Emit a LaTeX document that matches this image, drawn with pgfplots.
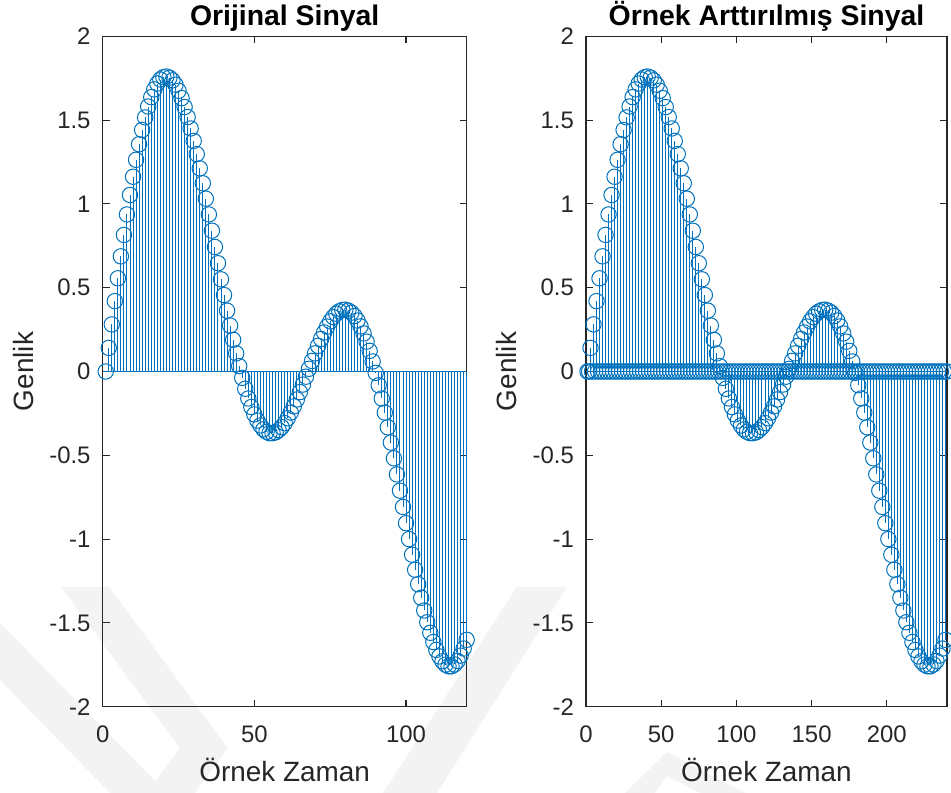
\documentclass[border=0pt]{standalone}
\usepackage{fontspec}
\setmainfont{Liberation Sans}
\usepackage{pgfplots}
\usepackage{pgfplotstable}
\pgfplotsset{compat=1.18}

\definecolor{stemblue}{HTML}{0072BD}
\definecolor{axgray}{HTML}{262626}
\definecolor{wm}{HTML}{F3F3F3}

% n: original sample index, m: index after upsampling by 2, y: amplitude
\pgfplotstableread{
n m y
1 1 0.000
2 3 0.141
3 5 0.281
4 7 0.420
5 9 0.556
6 11 0.687
7 13 0.815
8 15 0.937
9 17 1.053
10 19 1.162
11 21 1.263
12 23 1.356
13 25 1.441
14 27 1.516
15 29 1.581
16 31 1.637
17 33 1.683
18 35 1.718
19 37 1.742
20 39 1.756
21 41 1.760
22 43 1.753
23 45 1.737
24 47 1.711
25 49 1.675
26 51 1.631
27 53 1.578
28 55 1.518
29 57 1.450
30 59 1.376
31 61 1.297
32 63 1.212
33 65 1.123
34 67 1.031
35 69 0.937
36 71 0.840
37 73 0.743
38 75 0.646
39 77 0.550
40 79 0.456
41 81 0.363
42 83 0.274
43 85 0.189
44 87 0.108
45 89 0.032
46 91 -0.038
47 93 -0.103
48 95 -0.161
49 97 -0.212
50 99 -0.256
51 101 -0.293
52 103 -0.322
53 105 -0.345
54 107 -0.360
55 109 -0.368
56 111 -0.368
57 113 -0.363
58 115 -0.350
59 117 -0.332
60 119 -0.308
61 121 -0.279
62 123 -0.245
63 125 -0.208
64 127 -0.167
65 129 -0.123
66 131 -0.078
67 133 -0.031
68 135 0.016
69 137 0.063
70 139 0.108
71 141 0.153
72 143 0.194
73 145 0.233
74 147 0.268
75 149 0.299
76 151 0.324
77 153 0.345
78 155 0.359
79 157 0.367
80 159 0.369
81 161 0.363
82 163 0.351
83 165 0.331
84 167 0.304
85 169 0.269
86 171 0.227
87 173 0.178
88 175 0.123
89 177 0.060
90 179 -0.008
91 181 -0.082
92 183 -0.161
93 185 -0.245
94 187 -0.333
95 189 -0.424
96 191 -0.518
97 193 -0.614
98 195 -0.711
99 197 -0.808
100 199 -0.905
101 201 -1.000
102 203 -1.093
103 205 -1.183
104 207 -1.269
105 209 -1.350
106 211 -1.426
107 213 -1.496
108 215 -1.559
109 217 -1.614
110 219 -1.661
111 221 -1.700
112 223 -1.729
113 225 -1.749
114 227 -1.759
115 229 -1.759
116 231 -1.748
117 233 -1.727
118 235 -1.695
119 237 -1.653
120 239 -1.601
}\signal

\pgfplotsset{
  stemaxis/.style={
    scale only axis,
    height=670.4bp,
    ymin=-2, ymax=2,
    ytick={-2,-1.5,-1,-0.5,0,0.5,1,1.5,2},
    yticklabels={-2,-1.5,-1,-0.5,0,0.5,1,1.5,2},
    axis line style={axgray, line width=1.1bp},
    every tick/.style={axgray, line width=1.1bp},
    major tick length=7bp,
    tick align=inside,
    tick label style={font=\fontsize{24}{24}\selectfont, text=axgray, inner sep=0pt},
    yticklabel style={xshift=-12bp},
    xticklabel style={yshift=-19.3bp},
    label style={font=\fontsize{28}{28}\selectfont, text=axgray, inner sep=0pt},
    every axis title shift=0pt,
    title style={font=\bfseries\fontsize{28.5}{28.5}\selectfont, text=black,
                 inner sep=0pt, at={(0.5,1.01536)}, anchor=base},
    xlabel style={at={(0.5,-0.11188)}, anchor=base},
    clip=false,
    stem/.style={stemblue, line width=1bp, ycomb, mark=o, mark size=7.7bp,
                 mark options={line width=1bp, fill=none, solid}},
  },
}

\begin{document}
\begin{tikzpicture}
\useasboundingbox (0,0) rectangle (951bp,793bp);

% faint background emblem
\begin{scope}[x=1bp, y=-1bp, shift={(0,793bp)}]
  \fill[wm] (0,623) -- (167,793) -- (110,793) -- (0,680) -- cycle;
  \fill[wm] (61,587) -- (109,587) -- (228,748) -- (195,793) -- (147,793) -- (180,748) -- cycle;
  \fill[wm] (383,793) -- (437,793) -- (567,587) -- (517,587) -- cycle;
  \fill[wm] (625,793) -- (667,752) -- (745,793) -- (700,793) -- (667,776) -- (655,793) -- cycle;
\end{scope}

\begin{axis}[stemaxis,
  at={(102.7bp,86.3bp)}, anchor=south west,
  width=364bp,
  xmin=0, xmax=120,
  xtick={0,50,100}, xticklabels={0,50,100},
  title={Orijinal Sinyal},
  xlabel={Örnek Zaman},
  ylabel={Genlik},
  ylabel style={at={(-0.1901,0.5)}, anchor=base},
]
  \draw[stemblue, line width=1bp] (axis cs:0,0) -- (axis cs:120,0);
  \addplot[stem] table[x=n, y=y] {\signal};
\end{axis}

\begin{axis}[stemaxis,
  at={(586bp,86.3bp)}, anchor=south west,
  width=361bp,
  xmin=0, xmax=240,
  xtick={0,50,100,150,200}, xticklabels={0,50,100,150,200},
  title={Örnek Arttırılmış Sinyal},
  xlabel={Örnek Zaman},
  ylabel={Genlik},
  ylabel style={at={(-0.1920,0.5)}, anchor=base},
]
  \draw[stemblue, line width=1bp] (axis cs:0,0) -- (axis cs:240,0);
  \addplot[stem] table[x=m, y=y] {\signal};
  % inserted zero samples
  \addplot[stemblue, only marks, mark=o, mark size=7.7bp,
           mark options={line width=1bp, fill=none}] coordinates {
    (2,0)(4,0)(6,0)(8,0)(10,0)(12,0)(14,0)(16,0)(18,0)(20,0)
    (22,0)(24,0)(26,0)(28,0)(30,0)(32,0)(34,0)(36,0)(38,0)(40,0)
    (42,0)(44,0)(46,0)(48,0)(50,0)(52,0)(54,0)(56,0)(58,0)(60,0)
    (62,0)(64,0)(66,0)(68,0)(70,0)(72,0)(74,0)(76,0)(78,0)(80,0)
    (82,0)(84,0)(86,0)(88,0)(90,0)(92,0)(94,0)(96,0)(98,0)(100,0)
    (102,0)(104,0)(106,0)(108,0)(110,0)(112,0)(114,0)(116,0)(118,0)(120,0)
    (122,0)(124,0)(126,0)(128,0)(130,0)(132,0)(134,0)(136,0)(138,0)(140,0)
    (142,0)(144,0)(146,0)(148,0)(150,0)(152,0)(154,0)(156,0)(158,0)(160,0)
    (162,0)(164,0)(166,0)(168,0)(170,0)(172,0)(174,0)(176,0)(178,0)(180,0)
    (182,0)(184,0)(186,0)(188,0)(190,0)(192,0)(194,0)(196,0)(198,0)(200,0)
    (202,0)(204,0)(206,0)(208,0)(210,0)(212,0)(214,0)(216,0)(218,0)(220,0)
    (222,0)(224,0)(226,0)(228,0)(230,0)(232,0)(234,0)(236,0)(238,0)(240,0)
  };
\end{axis}
\end{tikzpicture}
\end{document}
